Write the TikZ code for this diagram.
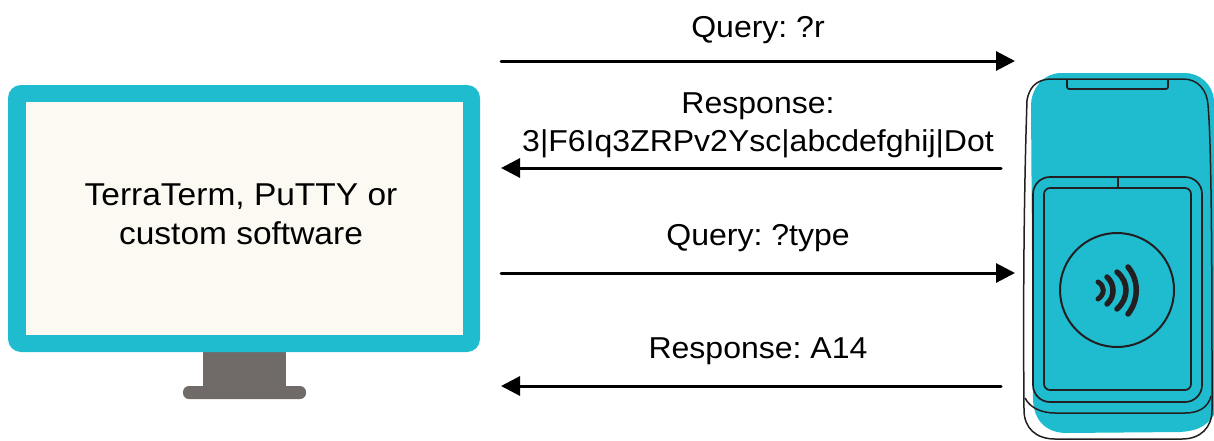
\documentclass[tikz,border=0pt]{standalone}
\usepackage{fontspec}
\setmainfont[FakeStretch=1.06]{Liberation Sans}
\usetikzlibrary{arrows.meta}
\definecolor{teal1}{HTML}{1FBBCF}
\definecolor{cream}{HTML}{FCF9F2}
\definecolor{standc}{HTML}{706A69}
\definecolor{ink}{HTML}{231F20}
\tikzset{
  lab/.style={font=\frenchspacing\fontsize{30.2}{36}\selectfont,text=black,inner sep=0pt,anchor=base},
  msg/.style={line width=3pt,line cap=round,-{Triangle[length=19pt,width=19pt]},black},
  devline/.style={draw=ink,line width=1.7pt},
}
\begin{document}
\begin{tikzpicture}[x=1pt,y=-1pt]
\useasboundingbox (0,0) rectangle (1214,440);
% monitor
\fill[standc] (203,350) rectangle (286,390);
\fill[standc,rounded corners=6pt] (183,386) rectangle (306,399);
\fill[teal1,rounded corners=13pt] (8,85) rectangle (480,352);
\node[fill=cream,minimum width=437pt,minimum height=233pt,inner sep=0pt,anchor=north west] (screen) at (26,102) {};
\node[lab,font=\frenchspacing\fontsize{31.6}{36}\selectfont] (swa) at (241,205) {TerraTerm, PuTTY or};
\node[lab,font=\frenchspacing\fontsize{31.6}{36}\selectfont] (swb) at (241,244) {custom software};
% device fill
\fill[teal1] (1060,73) -- (1185,73) .. controls (1200,73) and (1213,85) .. (1214,100) -- (1214,415)
  .. controls (1205,428) and (1195,431) .. (1180,432) -- (1065,433)
  .. controls (1045,432) and (1034,420) .. (1033,400) -- (1031,105)
  .. controls (1031,90) and (1042,74) .. (1060,73) -- cycle;
% device outline
\draw[devline,line width=1.5pt] (1027,100) .. controls (1029,90) and (1034,79) .. (1052,79)
  -- (1183,79) .. controls (1198,79) and (1207,90) .. (1208,105)
  .. controls (1212,150) and (1212,300) .. (1212,410)
  .. controls (1212,428) and (1200,439) .. (1182,439) -- (1055,439)
  .. controls (1036,439) and (1024,428) .. (1024,410)
  .. controls (1023,300) and (1024,190) .. (1027,100);
\draw[devline,line width=1.5pt] (1025,398) .. controls (1030,408) and (1042,413) .. (1055,413)
  -- (1185,413) .. controls (1198,413) and (1208,408) .. (1211,396);
\draw[devline] (1067,79) -- (1067,87) .. controls (1067,88) and (1068,89) .. (1069,89) -- (1166,89) .. controls (1167,89) and (1168,88) .. (1168,87) -- (1168,79);
\draw[devline,rounded corners=17pt] (1033,177) rectangle (1202,402);
\draw[devline,rounded corners=6pt] (1044,188) rectangle (1191,390);
\draw[devline] (1118,177) -- (1118,188);
\node[draw=ink,line width=2pt,circle,minimum size=114pt,inner sep=0pt] (reader) at (1117,290) {};
% contactless waves
\draw[ink,line width=5pt,line cap=round] (1098,282) .. controls (1105,286) and (1105,294) .. (1098,299);
\draw[ink,line width=5.5pt,line cap=round] (1107,277) .. controls (1115,284) and (1115,297) .. (1107,304);
\draw[ink,line width=5.5pt,line cap=round] (1117,272) .. controls (1129,282) and (1129,298) .. (1117,309);
\draw[ink,line width=5.5pt,line cap=round] (1128,267) .. controls (1139,280) and (1139,300) .. (1128,314);
% messages
\coordinate (a1) at (501,61); \coordinate (b1) at (1015,61);
\coordinate (a2) at (1001,168); \coordinate (b2) at (501,168);
\coordinate (a3) at (501,273); \coordinate (b3) at (1015,273);
\coordinate (a4) at (1001,386); \coordinate (b4) at (501,386);
\draw[msg] (a1) -- (b1);
\draw[msg] (a2) -- (b2);
\draw[msg] (a3) -- (b3);
\draw[msg] (a4) -- (b4);
\node[lab] (q1) at (758,37) {Query: ?r};
\node[lab] (r1a) at (758,113) {Response:};
\node[lab] (r1b) at (758,151) {3|F6Iq3ZRPv2Ysc|abcdefghij|Dot};
\node[lab] (q2) at (758,245) {Query: ?type};
\node[lab] (r2) at (758,358) {Response: A14};
\end{tikzpicture}
\end{document}
